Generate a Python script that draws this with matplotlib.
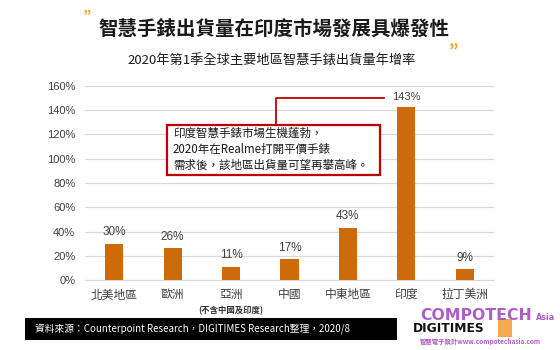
import matplotlib
matplotlib.use("Agg")
import matplotlib.pyplot as plt
from matplotlib.patches import Rectangle
from matplotlib.lines import Line2D

plt.rcParams['font.family'] = ['Noto Sans CJK TC', 'DejaVu Sans']

categories = ['北美地區', '歐洲', '亞洲', '中國', '中東地區', '印度', '拉丁美洲']
values = [30, 26, 11, 17, 43, 143, 9]
value_labels = ['30%', '26%', '11%', '17%', '43%', '143%', '9%']
yticks = [0, 20, 40, 60, 80, 100, 120, 140, 160]
ytick_labels = [f'{t}%' for t in yticks]

title = '智慧手錶出貨量在印度市場發展具爆發性'
subtitle = '2020年第1季全球主要地區智慧手錶出貨量年增率'
note_lines = ['印度智慧手錶市場生機蓬勃，', '2020年在Realme打開平價手錶', '需求後，該地區出貨量可望再攀高峰。']
sub_note = '(不含中國及印度)'
source = '資料來源：Counterpoint Research，DIGITIMES Research整理，2020/8'

W, H = 560, 350
fig = plt.figure(figsize=(W / 100, H / 100), dpi=100)

def fx(x):
    return x / W

def fy(y):
    return 1 - y / H

ax = fig.add_axes([fx(85), fy(280), fx(494) - fx(85), fy(86) - fy(280)])
bar_color = '#CD6A0A'
x = list(range(len(categories)))
ax.bar(x, values, width=0.31, color=bar_color, zorder=3)
ax.set_xlim(-0.5, len(categories) - 0.5)
ax.set_ylim(0, 160)
ax.set_yticks(yticks)
ax.set_yticklabels(ytick_labels, fontsize=8, color='#404040', family=['Liberation Sans', 'DejaVu Sans'])
ax.set_xticks(x)
ax.set_xticklabels(categories, fontsize=8.5, color='#404040')
ax.tick_params(axis='both', length=0, pad=7)
ax.tick_params(axis='x', pad=6)
ax.grid(axis='y', color='#D9D9D9', linewidth=0.9, zorder=0)
for s in ['top', 'right', 'left']:
    ax.spines[s].set_visible(False)
ax.spines['bottom'].set_color('#D9D9D9')
for i, (v, lab) in enumerate(zip(values, value_labels)):
    off = 3 if i == 5 else 4
    ax.annotate(lab, (i, v), xytext=(0, off), textcoords='offset points',
                ha='center', va='bottom', fontsize=8.5 if i != 5 else 8, color='#404040',
                family=['Liberation Sans', 'DejaVu Sans'])

# sub note under 亞洲
fig.text(fx(231), fy(311), sub_note, ha='center', va='center', fontsize=6, color='#303030', weight='bold')

# titles
fig.text(fx(274), fy(30), title, ha='center', va='center', fontsize=14, weight='bold', color='#1a1a1a')
fig.text(fx(92), fy(18), '”', ha='center', va='center', fontsize=12, weight='bold', color='#F0A030', style='italic')
fig.text(fx(453), fy(41), '„', ha='center', va='center', fontsize=12, weight='bold', color='#F0A030', style='italic')
fig.text(fx(272), fy(61), subtitle, ha='center', va='center', fontsize=9.5, color='#1a1a1a')

# annotation box and connector
fig.add_artist(Line2D([fx(276), fx(276), fx(384)], [fy(125), fy(98), fy(98)],
                      color='#C00000', linewidth=1.3, transform=fig.transFigure))
fig.add_artist(Rectangle((fx(167), fy(175)), fx(380) - fx(167), fy(125) - fy(175),
                         transform=fig.transFigure, facecolor='white', edgecolor='#C00000',
                         linewidth=1.6, zorder=5))
for k, line in enumerate(note_lines):
    fig.text(fx(173), fy(133 + 16 * k), line, ha='left', va='center', fontsize=8.3,
             color='#1a1a1a', zorder=6)

# footer
fig.add_artist(Rectangle((fx(25), fy(340)), fx(397) - fx(25), fy(318) - fy(340),
                         transform=fig.transFigure, facecolor='black', edgecolor='none'))
fig.text(fx(35), fy(329), source, ha='left', va='center', fontsize=7.0, color='white')

# logos / watermark
fig.add_artist(Rectangle((fx(498), fy(337)), fx(512) - fx(498), fy(319) - fy(337),
                         transform=fig.transFigure, facecolor='#F5A040', edgecolor='none', alpha=0.9))
fig.text(fx(413), fy(329), 'DIGITIMES', ha='left', va='center', fontsize=8.8, weight='bold',
         color='#111111', family=['DejaVu Sans'], zorder=7)
fig.text(fx(420), fy(315), 'COMPOTECH', ha='left', va='center', fontsize=11.3, weight='bold',
         color='#A040C0', alpha=0.85, family=['DejaVu Sans'])
fig.text(fx(536), fy(318), 'Asia', ha='left', va='center', fontsize=5.8, weight='bold',
         color='#A040C0', alpha=0.85, family=['DejaVu Sans'])
fig.text(fx(420), fy(341), '智慧電子設計www.compotechasia.com', ha='left', va='center', fontsize=4.6,
         weight='bold', color='#A040C0', alpha=0.85)

fig.savefig('out.png', dpi=100)
